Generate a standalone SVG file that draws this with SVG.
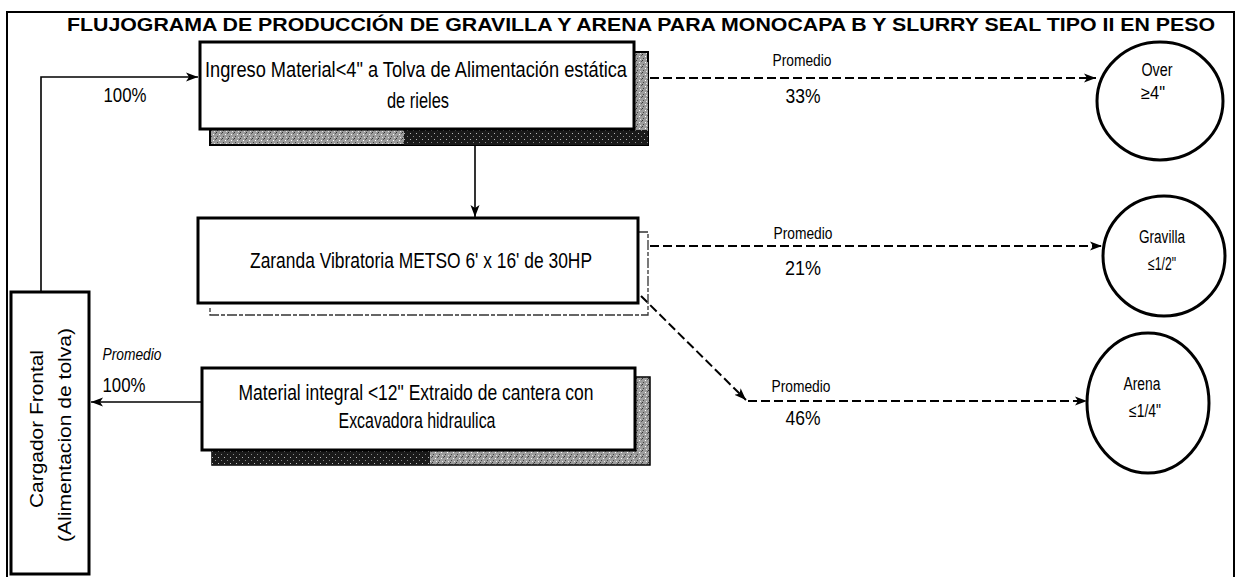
<svg xmlns="http://www.w3.org/2000/svg" width="1241" height="577" viewBox="0 0 1241 577">
<style>
.box{fill:#fff;stroke:#000;stroke-width:3}
.circ{fill:#fff;stroke:#000;stroke-width:3}
.frame{fill:none;stroke:#000;stroke-width:2}
.t{font-family:"Liberation Sans Narrow","Liberation Sans",Arial,sans-serif;fill:#000}
.lbl{font-size:21px;text-anchor:middle}
.bx{font-size:22px;text-anchor:middle}
.sm{font-size:17px;text-anchor:middle}
.cl{font-size:18px;text-anchor:middle}
.solid{stroke:#000;stroke-width:1.6;fill:none}
.dash{stroke:#000;stroke-width:2;stroke-dasharray:9 4;fill:none}
.title{font-family:"Liberation Sans",Arial,sans-serif;font-weight:bold;font-size:18px;fill:#000}
.cg{font-family:"Liberation Sans",Arial,sans-serif;font-size:18px;text-anchor:middle;fill:#000}
</style>
<defs>
<marker id="ah" viewBox="0 0 12 10" refX="12" refY="5" markerWidth="12" markerHeight="10" markerUnits="userSpaceOnUse" orient="auto">
<path d="M0,0.5 L12,5 L0,9.5 L3,5 z" fill="#000"/>
</marker>
<pattern id="stip" width="6" height="6" patternUnits="userSpaceOnUse">
<rect width="6" height="6" fill="#9c9c9c"/>
<rect x="0" y="0" width="1" height="1" fill="#333"/>
<rect x="3" y="2" width="1" height="1" fill="#fff"/>
<rect x="1" y="4" width="1" height="1" fill="#444"/>
<rect x="4" y="5" width="1" height="1" fill="#e6e6e6"/>
<rect x="5" y="1" width="1" height="1" fill="#555"/>
</pattern>
<pattern id="dark" width="6" height="6" patternUnits="userSpaceOnUse">
<rect width="6" height="6" fill="#1a1a1a"/>
<rect x="2" y="1" width="1" height="1" fill="#bbb"/>
<rect x="5" y="4" width="1" height="1" fill="#888"/>
</pattern>
</defs>

<rect width="1241" height="577" fill="#fff"/>

<!-- outer frame -->
<path class="frame" d="M7,577 V12 H1234 V577"/>

<text class="title" x="67" y="31" textLength="1148" lengthAdjust="spacingAndGlyphs">FLUJOGRAMA DE PRODUCCIÓN DE GRAVILLA Y ARENA PARA MONOCAPA B Y SLURRY SEAL TIPO II EN PESO</text>

<g id="connectors">
<path class="solid" d="M41,292 V77 H198" marker-end="url(#ah)"/>
<path class="solid" d="M475,145 V217" marker-end="url(#ah)"/>
<path class="solid" d="M201,402 H91" marker-end="url(#ah)"/>
<path class="dash" d="M650,78 H1096" marker-end="url(#ah)"/>
<path class="dash" d="M650,246 H1102" marker-end="url(#ah)"/>
<path class="dash" d="M641,296 L746,400" marker-end="url(#ah)"/>
<path class="dash" d="M748,401 H1087" marker-end="url(#ah)"/>
<text class="t lbl" x="125" y="102" textLength="43" lengthAdjust="spacingAndGlyphs">100%</text>
<text class="t sm" x="802" y="66" textLength="59" lengthAdjust="spacingAndGlyphs">Promedio</text>
<text class="t lbl" x="803" y="103" textLength="35" lengthAdjust="spacingAndGlyphs">33%</text>
<text class="t sm" x="803" y="239" textLength="59" lengthAdjust="spacingAndGlyphs">Promedio</text>
<text class="t lbl" x="803" y="275" textLength="36" lengthAdjust="spacingAndGlyphs">21%</text>
<text class="t sm" x="801" y="392" textLength="59" lengthAdjust="spacingAndGlyphs">Promedio</text>
<text class="t lbl" x="803" y="425" textLength="35" lengthAdjust="spacingAndGlyphs">46%</text>
<text class="t sm" x="132" y="360" font-style="italic" textLength="59" lengthAdjust="spacingAndGlyphs">Promedio</text>
<text class="t lbl" x="124" y="392" textLength="43" lengthAdjust="spacingAndGlyphs">100%</text>
</g>

<g id="ingreso">
<rect x="210" y="52" width="438" height="93" fill="url(#stip)" stroke="#000" stroke-width="2"/>
<rect x="404" y="130" width="244" height="15" fill="url(#dark)"/>
<rect x="635" y="62" width="13" height="68" fill="url(#stip)"/>
<rect class="box" x="200" y="42" width="434" height="87"/>
<text class="t bx" x="416" y="77" textLength="422" lengthAdjust="spacingAndGlyphs">Ingreso Material&lt;4" a Tolva de Alimentación estática</text>
<text class="t bx" x="418" y="108" textLength="62" lengthAdjust="spacingAndGlyphs">de rieles</text>
</g>

<g id="zaranda">
<path d="M638,232 H648 V315 H210 V306" fill="none" stroke="#333" stroke-width="1.3" stroke-dasharray="10 2 4 2"/>
<rect class="box" x="198" y="218" width="440" height="85"/>
<text class="t bx" x="421" y="268" textLength="342" lengthAdjust="spacingAndGlyphs">Zaranda Vibratoria METSO 6' x 16' de 30HP</text>
</g>

<g id="material">
<rect x="212" y="377" width="438" height="88" fill="url(#stip)" stroke="#000" stroke-width="1.5"/>
<rect x="212" y="450" width="218" height="15" fill="url(#dark)"/>
<rect class="box" x="202" y="368" width="433" height="82"/>
<text class="t bx" x="416" y="400" textLength="355" lengthAdjust="spacingAndGlyphs">Material integral &lt;12" Extraido de cantera con</text>
<text class="t bx" x="417" y="428" textLength="157" lengthAdjust="spacingAndGlyphs">Excavadora hidraulica</text>
</g>

<g id="cargador">
<rect class="box" x="11" y="292" width="78" height="282"/>
<text class="cg" x="43" y="429" transform="rotate(-90 43 429)" textLength="158" lengthAdjust="spacingAndGlyphs">Cargador Frontal</text>
<text class="cg" x="71" y="435" transform="rotate(-90 71 435)" textLength="214" lengthAdjust="spacingAndGlyphs">(Alimentacion de tolva)</text>
</g>

<g id="over">
<ellipse class="circ" cx="1160" cy="101" rx="63" ry="59"/>
<text class="t cl" x="1157" y="76" textLength="31" lengthAdjust="spacingAndGlyphs">Over</text>
<text class="t cl" x="1153" y="99" textLength="24" lengthAdjust="spacingAndGlyphs">≥4"</text>
</g>

<g id="gravilla">
<ellipse class="circ" cx="1164" cy="256" rx="61" ry="60"/>
<text class="t cl" x="1162" y="243" textLength="46" lengthAdjust="spacingAndGlyphs">Gravilla</text>
<text class="t cl" x="1162" y="270" textLength="28" lengthAdjust="spacingAndGlyphs">≤1/2"</text>
</g>

<g id="arena">
<ellipse class="circ" cx="1148" cy="403" rx="61" ry="70"/>
<text class="t cl" x="1142" y="390" textLength="37" lengthAdjust="spacingAndGlyphs">Arena</text>
<text class="t cl" x="1145" y="417" textLength="32" lengthAdjust="spacingAndGlyphs">≤1/4"</text>
</g>
</svg>
